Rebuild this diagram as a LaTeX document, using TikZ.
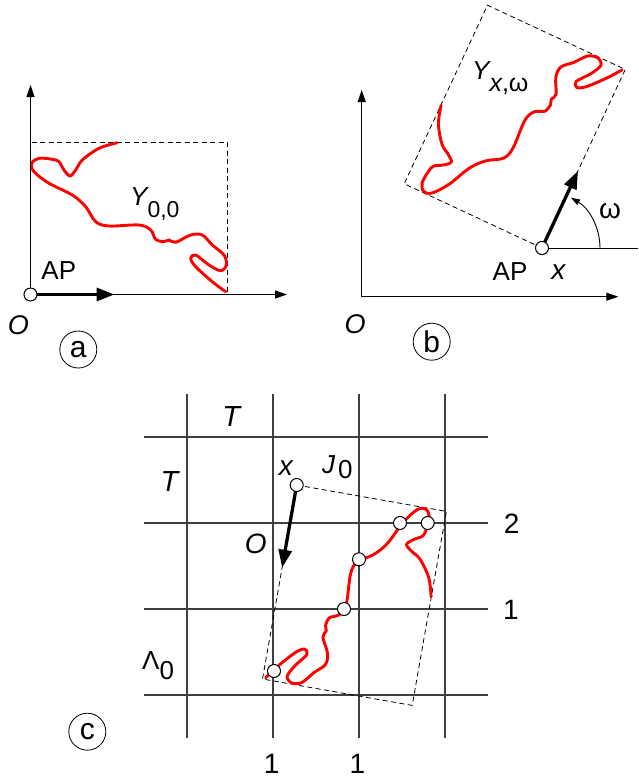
\documentclass[tikz,border=0pt]{standalone}
\usepackage{fontspec}
\setmainfont{Liberation Sans}
\usetikzlibrary{arrows.meta}
\newcommand{\fs}[1]{\fontsize{#1}{#1}\selectfont}
\newcommand{\lowsub}[3]{\raisebox{-#1pt}{\fs{#2}#3}}
\newcommand{\drawwalk}{\draw[walk] plot[smooth,tension=0.55] coordinates {
 (86.8,-151.8) (68.5,-146.2) (51.8,-134.5) (45.2,-124.5) (39.5,-118.5)
 (33.5,-124.5) (28.5,-132.8) (21.8,-135.2) (8.5,-136.2) (1.2,-131.2)
 (3.5,-122.8) (18.5,-111.2) (41.8,-99.5) (55.2,-87.8) (65.2,-72.8)
 (78.5,-68.5) (108.5,-69.5) (120.2,-64.5) (125.2,-55.2) (133.5,-52.8)
 (138.5,-54.5) (145.2,-52.2) (160.2,-59.5) (171.8,-59.5) (181.8,-49.5)
 (193.5,-39.5) (195.8,-29.5) (190.2,-23.8) (178.5,-29.5) (165.2,-39.5)
 (160.2,-36.2) (165.2,-27.8) (181.8,-12.8) (195.2,-2.8)};}
\begin{document}
\begin{tikzpicture}[x=1pt,y=-1pt,
  axis/.style={line width=1pt,-{Triangle[length=12pt,width=8pt]}},
  aparrow/.style={line width=3.3pt,-{Triangle[length=18pt,width=13pt]}},
  frame/.style={dash pattern=on 5pt off 3.5pt,line width=0.9pt},
  walk/.style={draw=red,line width=2.9pt,line cap=round,line join=round},
  apdot/.style={circle,draw,fill=white,line width=1pt,minimum size=13pt,inner sep=0pt},
  tag/.style={circle,draw,line width=0.8pt,minimum size=37pt,inner sep=0pt,font=\fs{30}},
  lbl/.style={inner sep=0pt,font=\fs{27}},
  gridline/.style={line width=1.8pt,draw=black!75},
  arcarrow/.style={line width=0.9pt,-{Triangle[length=9pt,width=6pt]}}]
\useasboundingbox (0,0) rectangle (638,779);

% ---------------- panel (a)
\coordinate (aO) at (30.5,294.5);
\coordinate (aYtop) at (30.5,85);
\coordinate (aXend) at (287,294.5);
\begin{scope}[shift={(30.5,294.5)}]
  \draw[frame] (0,0) rectangle (197,-152);
  \drawwalk
  \coordinate (aTip) at (84,0);
\end{scope}
\draw[axis] (aO) -- (aYtop);
\draw[axis] (aO) -- (aXend);
\draw[aparrow] (aO) -- (aTip);
\node[apdot] (aDot) at (aO) {};
\node[lbl,font=\fs{26}] (aAP) at (58.8,270.5) {AP};
\node[lbl,font=\fs{27}\itshape] (aOl) at (18.3,325.2) {O};
\node[lbl,font=\fs{26},anchor=base west] (aY) at (130,205) {{\itshape Y}\lowsub{12}{23}{0,0}};
\node[tag] (tagA) at (78.3,349.5) {a};

% ---------------- panel (b)
\coordinate (bO) at (361.7,296.7);
\coordinate (bYtop) at (361.7,90);
\coordinate (bXend) at (618.3,296.7);
\draw[axis] (bO) -- (bYtop);
\draw[axis] (bO) -- (bXend);
\coordinate (bP) at (542,248);
\coordinate (bR) at (638,248);
\begin{scope}[shift={(542,248)},rotate=65]
  \draw[frame,line width=0.8pt] (0,0) rectangle (197,-152);
  \drawwalk
  \coordinate (bTip) at (85,0);
\end{scope}
\draw[line width=1pt] (bP) -- (bR);
\coordinate (bArc) at (600,248);
\draw[arcarrow] (bArc) arc[start angle=0,end angle=-60,radius=58];
\draw[aparrow] (bP) -- (bTip);
\node[apdot] (bDot) at (bP) {};
\node[lbl,font=\fs{26}] (bAP) at (510,271.8) {AP};
\node[lbl,font=\fs{28}\itshape] (bx) at (558.3,272.2) {x};
\node[lbl,font=\fs{28}] (bw) at (610,210.8) {ω};
\node[lbl,font=\fs{27}\itshape] (bOl) at (355,324) {O};
\node[lbl,font=\fs{26},anchor=base west] (bY) at (472,79.3) {{\itshape Y}\lowsub{12.5}{25}{{\itshape x},ω}};
\node[tag] (tagB) at (431.7,341.7) {b};

% ---------------- panel (c)
\foreach \gx in {187,273,359,445}
  \draw[gridline] (\gx,394) -- (\gx,738);
\foreach \gy in {437,523,609,695}
  \draw[gridline] (144,\gy) -- (488,\gy);
\coordinate (cP) at (296.7,485);
\begin{scope}[shift={(296.7,485)},rotate=-100]
  \draw[frame,line width=0.8pt] (0,0) rectangle (197,-152);
  \drawwalk
  \coordinate (cTip) at (84,0);
\end{scope}
\draw[aparrow] (cP) -- (cTip);
\node[apdot] (cDot) at (cP) {};
\node[apdot] (m1) at (274,671) {};
\node[apdot] (m2) at (344,609) {};
\node[apdot] (m3) at (359,559.3) {};
\node[apdot] (m4) at (400,523) {};
\node[apdot] (m5) at (427.7,523) {};
\node[lbl,font=\fs{29}\itshape] (cT1) at (231.3,417) {T};
\node[lbl,font=\fs{29}\itshape] (cT2) at (169.5,481.7) {T};
\node[lbl,font=\fs{28}\itshape] (cx) at (285.8,468) {x};
\node[lbl,font=\fs{26},anchor=base west] (cJ) at (322,473.3) {{\itshape J}\hspace{3pt}\lowsub{5}{26}{0}};
\node[lbl,font=\fs{28}\itshape] (cOl) at (255.8,544.2) {O};
\node[lbl,font=\fs{26},anchor=base west] (cL) at (142,669.3) {Λ\lowsub{10}{26}{0}};
\node[lbl,font=\fs{28}] (c2) at (511.7,523.3) {2};
\node[lbl,font=\fs{28}] (c1r) at (510.8,610.3) {1};
\node[lbl,font=\fs{28}] (c1a) at (271.7,764) {1};
\node[lbl,font=\fs{28}] (c1b) at (357.5,764) {1};
\node[tag] (tagC) at (87.3,731.7) {c};
\end{tikzpicture}
\end{document}
